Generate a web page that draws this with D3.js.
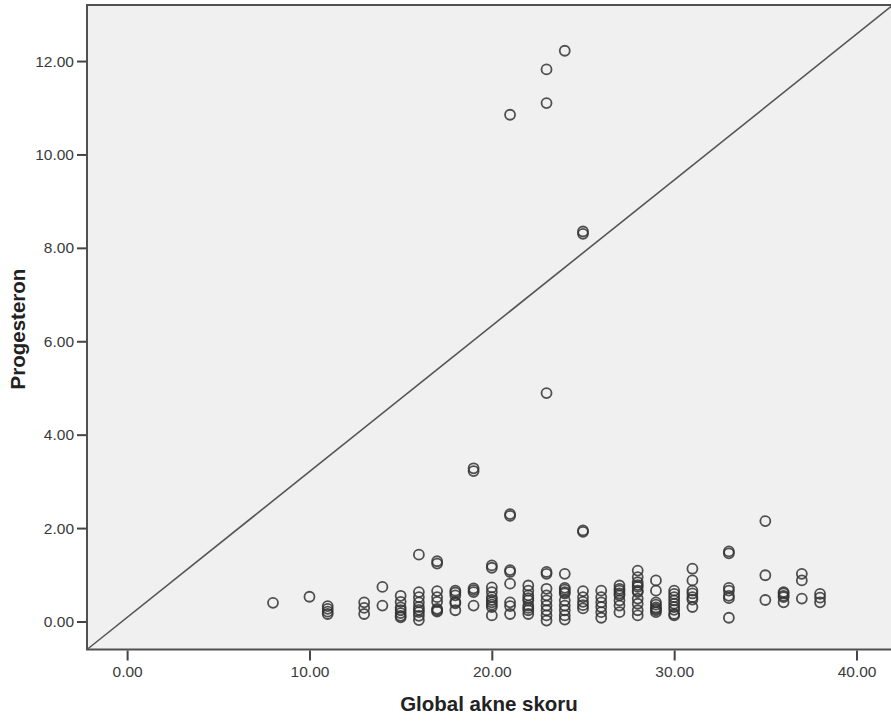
<!DOCTYPE html>
<html>
<head>
<meta charset="utf-8">
<script src="https://cdn.jsdelivr.net/npm/d3@7"></script>
<style>
  body { margin: 0; background: #fff; }
  svg { display: block; font-family: "Liberation Sans", Arial, sans-serif; }
</style>
</head>
<body>
<div id="chart"></div>
<script>
var w = 891;
var h = 722;

// acne score (x) and the progesteron readings found at that score
var acneScores = [8, 10, 11, 13, 14, 15, 16, 17, 18, 19, 20, 21, 22, 23, 24, 25, 26, 27, 28, 29, 30, 31, 33, 35, 36, 37, 38];
var progValues = [
  [0.40],
  [0.53],
  [0.33, 0.27, 0.21, 0.16],
  [0.41, 0.29, 0.16],
  [0.74, 0.34],
  [0.55, 0.42, 0.30, 0.24, 0.18, 0.12, 0.09],
  [1.43, 0.63, 0.52, 0.41, 0.31, 0.25, 0.20, 0.12, 0.03],
  [1.29, 1.24, 0.65, 0.52, 0.42, 0.27, 0.24, 0.21],
  [0.66, 0.62, 0.56, 0.42, 0.39, 0.24],
  [3.28, 3.22, 0.71, 0.67, 0.63, 0.34],
  [1.20, 1.15, 0.73, 0.63, 0.52, 0.46, 0.41, 0.36, 0.31, 0.13],
  [10.85, 2.30, 2.26, 1.10, 1.06, 0.81, 0.41, 0.33, 0.16],
  [0.77, 0.66, 0.56, 0.50, 0.45, 0.34, 0.29, 0.24, 0.16],
  [11.82, 11.10, 4.89, 1.06, 1.02, 0.70, 0.56, 0.45, 0.34, 0.24, 0.13, 0.02],
  [12.22, 1.02, 0.72, 0.68, 0.63, 0.60, 0.45, 0.34, 0.24, 0.13, 0.04],
  [8.35, 8.30, 1.95, 1.92, 0.65, 0.52, 0.42, 0.35, 0.28],
  [0.66, 0.52, 0.41, 0.31, 0.20, 0.08],
  [0.77, 0.70, 0.66, 0.60, 0.56, 0.45, 0.34, 0.20],
  [1.09, 0.95, 0.84, 0.78, 0.74, 0.66, 0.63, 0.49, 0.38, 0.24, 0.13],
  [0.88, 0.66, 0.41, 0.36, 0.30, 0.27, 0.24, 0.20],
  [0.66, 0.59, 0.52, 0.45, 0.38, 0.31, 0.25, 0.16, 0.13],
  [1.13, 0.88, 0.66, 0.60, 0.52, 0.47, 0.31],
  [1.50, 1.46, 0.72, 0.66, 0.55, 0.50, 0.08],
  [2.15, 0.99, 0.46],
  [0.63, 0.60, 0.55, 0.52, 0.41],
  [1.02, 0.88, 0.49],
  [0.59, 0.51, 0.41]
];
var xTicks = [0, 10, 20, 30, 40];
var yTicks = [0, 2, 4, 6, 8, 10, 12];

var points = [];
acneScores.forEach(function(s, i) {
  progValues[i].forEach(function(v) { points.push({ x: s, y: v }); });
});

// plot area edges (not "top": that name is taken by window.top)
var pLeft = 87, pRight = 893, pTop = 5, pBottom = 649.5;

var x = d3.scaleLinear().domain([-2.2, 42]).range([pLeft, pRight]);
var y = d3.scaleLinear().domain([-0.6, 13.2]).range([pBottom, pTop]);

var svg = d3.select("#chart")
            .append("svg")
            .attr("width", w)
            .attr("height", h);

// plot area
svg.append("rect")
    .attr("x", pLeft)
    .attr("y", pTop)
    .attr("width", pRight - pLeft + 10)
    .attr("height", pBottom - pTop)
    .style("fill", "#f0f0f0")
    .style("stroke", "#505050")
    .style("stroke-width", 2);

// axes
var fmt = d3.format(".2f");
var yAxis = svg.append("g")
    .attr("transform", "translate(" + (pLeft - 1) + ",0)")
    .call(d3.axisLeft(y).tickValues(yTicks).tickFormat(fmt).tickSize(9).tickPadding(3));
var xAxis = svg.append("g")
    .attr("transform", "translate(0," + (pBottom + 1) + ")")
    .call(d3.axisBottom(x).tickValues(xTicks).tickFormat(fmt).tickSize(10).tickPadding(5));

[yAxis, xAxis].forEach(function(a) {
  a.select(".domain").remove();
  a.selectAll(".tick line").style("stroke", "#444").style("stroke-width", 2);
  a.selectAll(".tick text")
      .style("font-size", "15.5px")
      .style("font-family", "'Liberation Sans', Arial, sans-serif")
      .style("fill", "#3a3a3a");
});

// diagonal reference line, corner to corner of the plot area
var xd = x.domain(), yd = y.domain();
svg.append("line")
    .attr("x1", x(xd[0]))
    .attr("y1", y(yd[0]))
    .attr("x2", x(xd[1]))
    .attr("y2", y(yd[1]))
    .style("stroke", "#555")
    .style("stroke-width", 1.6);

// points
svg.selectAll("circle.pt")
    .data(points)
    .enter()
    .append("circle")
    .attr("class", "pt")
    .attr("cx", function(d) { return x(d.x); })
    .attr("cy", function(d) { return y(d.y); })
    .attr("r", 5)
    .style("fill", "none")
    .style("stroke", "#333")
    .style("stroke-opacity", 0.85)
    .style("stroke-width", 1.8);

// titles
svg.append("text")
    .attr("x", 489)
    .attr("y", 711)
    .attr("text-anchor", "middle")
    .style("font-size", "20.5px")
    .style("font-weight", "bold")
    .style("fill", "#222")
    .text("Global akne skoru");

svg.append("text")
    .attr("transform", "translate(25," + 329 + ") rotate(-90)")
    .attr("text-anchor", "middle")
    .style("font-size", "20.5px")
    .style("font-weight", "bold")
    .style("fill", "#222")
    .text("Progesteron");
</script>
</body>
</html>
